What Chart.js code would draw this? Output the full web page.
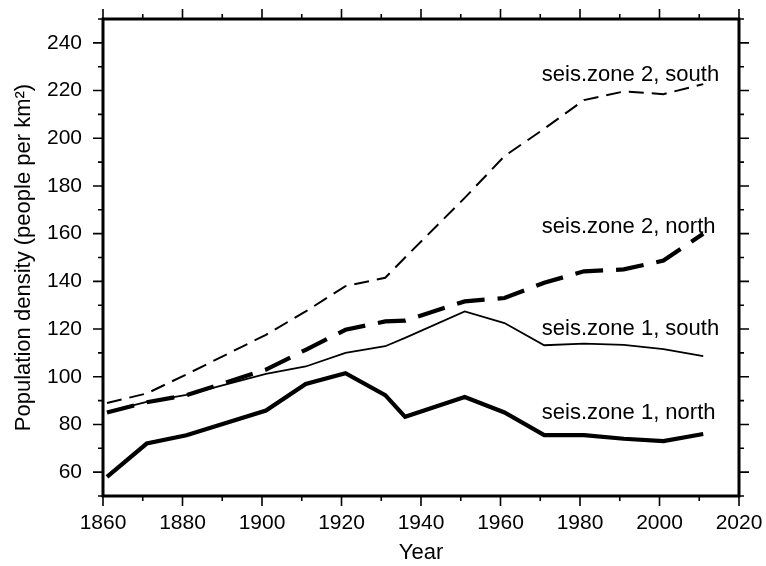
<!DOCTYPE html>
<html>
<head>
<meta charset="utf-8">
<script src="https://cdn.jsdelivr.net/npm/chart.js@4"></script>
<style>
  html, body { margin: 0; padding: 0; background: #fff; }
  #wrap { width: 766px; height: 566px; }
</style>
</head>
<body>
<div id="wrap"><canvas id="popChart"></canvas></div>
<script>
// Census years and population density per zone (people per km2)
const years = [1861, 1871, 1881, 1901, 1911, 1921, 1931, 1936, 1951, 1961, 1971, 1981, 1991, 2001, 2011];
const zone1North = [58, 72, 75.5, 85.8, 97, 101.5, 92.3, 83.2, 91.5, 85, 75.5, 75.5, 74, 73, 76];
const zone1South = [85.3, 89.5, 92.4, 101.2, 104.3, 110, 112.8, 116.3, 127.4, 122.5, 113.2, 113.9, 113.4, 111.6, 108.6];
const zone2North = [85, 89.3, 92.3, 103, 111.3, 119.7, 123.2, 123.5, 131.6, 133, 139.4, 144.2, 145, 148.7, 160];
const zone2South = [89, 93, 101, 117.6, 127.4, 138, 141.5, 150, 175, 192.5, 204, 216, 219.6, 218.5, 222.7];
const seriesNames = ["seis.zone 1, north", "seis.zone 1, south", "seis.zone 2, north", "seis.zone 2, south"];

// Axis ticks
const xTicks = [1860, 1880, 1900, 1920, 1940, 1960, 1980, 2000, 2020];
const xMinor = [1870, 1890, 1910, 1930, 1950, 1970, 1990, 2010];
const yTicks = [60, 80, 100, 120, 140, 160, 180, 200, 220, 240];
const yMinor = [50, 70, 90, 110, 130, 150, 170, 190, 210, 230, 250];

const FONT = "'Liberation Sans', Arial, Helvetica, sans-serif";

function pts(vals) {
  return years.map((y, i) => ({ x: y, y: vals[i] }));
}

// frame + outward ticks on all four sides (GMT style)
const framePlugin = {
  id: 'frame',
  afterDraw(chart) {
    const { ctx, chartArea: a, scales: { x, y } } = chart;
    ctx.save();
    ctx.strokeStyle = '#000';
    ctx.lineWidth = 1.6;
    const tick = (px, len, horiz) => {
      ctx.beginPath();
      if (horiz) {
        ctx.moveTo(px, a.bottom); ctx.lineTo(px, a.bottom + len);
        ctx.moveTo(px, a.top); ctx.lineTo(px, a.top - len);
      } else {
        ctx.moveTo(a.left, px); ctx.lineTo(a.left - len, px);
        ctx.moveTo(a.right, px); ctx.lineTo(a.right + len, px);
      }
      ctx.stroke();
    };
    xTicks.forEach(v => tick(x.getPixelForValue(v), 10, true));
    xMinor.forEach(v => tick(x.getPixelForValue(v), 5, true));
    yTicks.forEach(v => tick(y.getPixelForValue(v), 10, false));
    yMinor.forEach(v => tick(y.getPixelForValue(v), 5, false));
    ctx.lineWidth = 3;
    ctx.strokeRect(a.left, a.top, a.right - a.left, a.bottom - a.top);
    ctx.restore();
  }
};

// series names written next to the line ends
const labelPlugin = {
  id: 'seriesLabels',
  afterDatasetsDraw(chart) {
    const { ctx, scales: { x, y } } = chart;
    const at = [85, 120, 162.8, 226.6];
    ctx.save();
    ctx.fillStyle = '#000';
    ctx.font = '22px ' + FONT;
    ctx.textAlign = 'left';
    ctx.textBaseline = 'middle';
    seriesNames.forEach((name, i) => {
      ctx.fillText(name, x.getPixelForValue(1970.4), y.getPixelForValue(at[i]));
    });
    ctx.restore();
  }
};

const ctx = document.getElementById('popChart').getContext('2d');
const popChart = new Chart(ctx, {
  type: 'line',
  data: {
    datasets: [
      { label: seriesNames[0], data: pts(zone1North), borderColor: '#000', borderWidth: 4.2 },
      { label: seriesNames[1], data: pts(zone1South), borderColor: '#000', borderWidth: 1.8 },
      { label: seriesNames[2], data: pts(zone2North), borderColor: '#000', borderWidth: 4.2, borderDash: [28, 13] },
      { label: seriesNames[3], data: pts(zone2South), borderColor: '#000', borderWidth: 2, borderDash: [15, 8] }
    ]
  },
  options: {
    responsive: true,
    maintainAspectRatio: false,
    animation: false,
    events: [],
    layout: { padding: { left: 0, top: 19, right: 27, bottom: 0 } },
    elements: { point: { radius: 0 }, line: { tension: 0, fill: false, borderCapStyle: 'butt', borderJoinStyle: 'miter' } },
    plugins: { legend: { display: false }, tooltip: { enabled: false } },
    scales: {
      x: {
        type: 'linear',
        min: 1860,
        max: 2020,
        afterBuildTicks: s => { s.ticks = xTicks.map(v => ({ value: v })); },
        afterFit: s => { s.height = 70; s.paddingLeft = 0; s.paddingRight = 0; },
        grid: { display: false, drawTicks: false },
        border: { display: false },
        ticks: { color: '#000', padding: 15, maxRotation: 0, font: { family: FONT, size: 21 }, callback: v => String(v) },
        title: { display: true, text: 'Year', color: '#000', padding: { top: 0, bottom: 0 }, font: { family: FONT, size: 22 } }
      },
      y: {
        min: 50,
        max: 250,
        afterBuildTicks: s => { s.ticks = yTicks.map(v => ({ value: v })); },
        afterFit: s => { s.width = 103; s.paddingTop = 0; s.paddingBottom = 0; },
        grid: { display: false, drawTicks: false },
        border: { display: false },
        ticks: { color: '#000', padding: 21, font: { family: FONT, size: 21 } },
        title: { display: true, text: 'Population density (people per km²)', color: '#000', padding: { top: 11, bottom: 0 }, font: { family: FONT, size: 22 } }
      }
    }
  },
  plugins: [framePlugin, labelPlugin]
});
</script>
</body>
</html>
